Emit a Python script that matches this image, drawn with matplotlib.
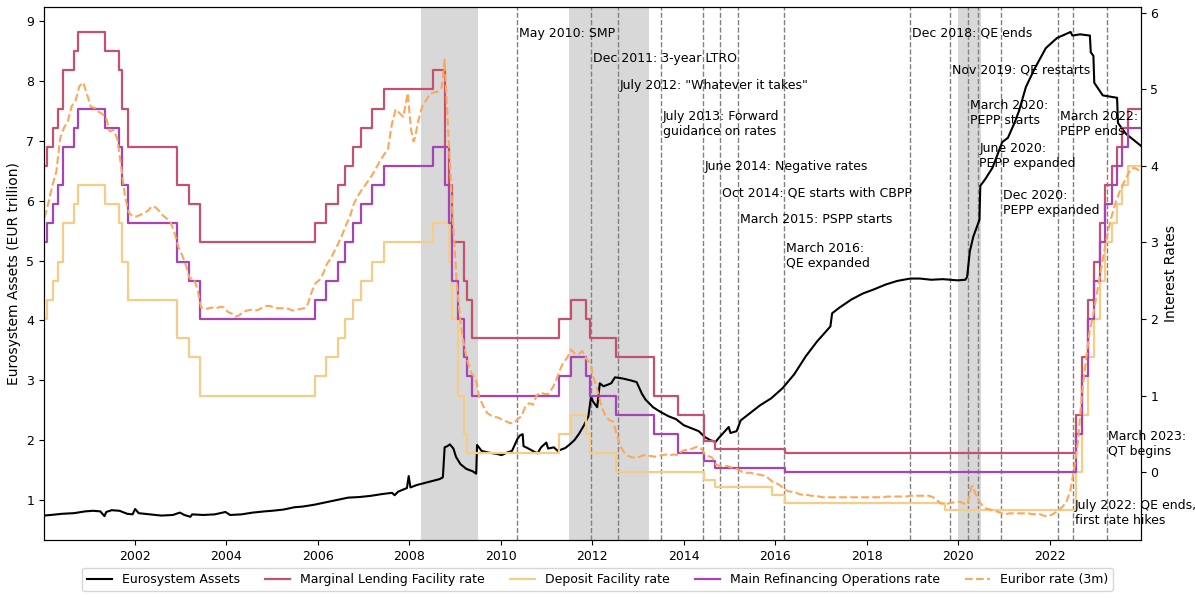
import matplotlib
matplotlib.use("Agg")
import matplotlib.pyplot as plt
import matplotlib.dates as mdates
import pandas as pd

# ---------------- data ----------------
x_start = "2000-01-07"
x_end = "2023-12-29"

# ECB key rates (change dates)
rate_dates = ["2000-01-07", "2000-02-04", "2000-03-17", "2000-04-28", "2000-06-09", "2000-09-01",
              "2000-10-06", "2001-05-11", "2001-08-31", "2001-09-18", "2001-11-09", "2002-12-06",
              "2003-03-07", "2003-06-06", "2005-12-06", "2006-03-08", "2006-06-15", "2006-08-09",
              "2006-10-11", "2006-12-13", "2007-03-14", "2007-06-13", "2008-07-09", "2008-10-09",
              "2008-10-15", "2008-11-12", "2008-12-10", "2009-01-21", "2009-03-11", "2009-04-08",
              "2009-05-13", "2011-04-13", "2011-07-13", "2011-11-09", "2011-12-14", "2012-07-11",
              "2013-05-08", "2013-11-13", "2014-06-11", "2014-09-10", "2015-12-09", "2016-03-16",
              "2019-09-18", "2022-07-27", "2022-09-14", "2022-11-02", "2022-12-21", "2023-02-08",
              "2023-03-22", "2023-05-10", "2023-06-21", "2023-08-02", "2023-09-20"]
mlf_rates = [4.00, 4.25, 4.50, 4.75, 5.25, 5.50, 5.75, 5.50, 5.25, 4.75, 4.25, 3.75,
             3.50, 3.00, 3.25, 3.50, 3.75, 4.00, 4.25, 4.50, 4.75, 5.00, 5.25, 4.25,
             4.25, 3.75, 3.00, 3.00, 2.50, 2.25, 1.75, 2.00, 2.25, 2.00, 1.75, 1.50,
             1.00, 0.75, 0.40, 0.30, 0.30, 0.25, 0.25, 0.75, 1.50, 2.25, 2.75, 3.25,
             3.75, 4.00, 4.25, 4.50, 4.75]
dfr_rates = [2.00, 2.25, 2.50, 2.75, 3.25, 3.50, 3.75, 3.50, 3.25, 2.75, 2.25, 1.75,
             1.50, 1.00, 1.25, 1.50, 1.75, 2.00, 2.25, 2.50, 2.75, 3.00, 3.25, 3.25,
             3.25, 2.75, 2.00, 1.00, 0.50, 0.25, 0.25, 0.50, 0.75, 0.50, 0.25, 0.00,
             0.00, 0.00, -0.10, -0.20, -0.30, -0.40, -0.50, 0.00, 0.75, 1.50, 2.00, 2.50,
             3.00, 3.25, 3.50, 3.75, 4.00]
mro_rates = [3.00, 3.25, 3.50, 3.75, 4.25, 4.50, 4.75, 4.50, 4.25, 3.75, 3.25, 2.75,
             2.50, 2.00, 2.25, 2.50, 2.75, 3.00, 3.25, 3.50, 3.75, 4.00, 4.25, 4.25,
             3.75, 3.25, 2.50, 2.00, 1.50, 1.25, 1.00, 1.25, 1.50, 1.25, 1.00, 0.75,
             0.50, 0.25, 0.15, 0.05, 0.05, 0.00, 0.00, 0.50, 1.25, 2.00, 2.50, 3.00,
             3.50, 3.75, 4.00, 4.25, 4.50]

# Euribor 3m (monthly, plus a few notable days)
euribor_dates = ["2000-01-07"] + [f"{y}-{m:02d}-15" for y in range(2000, 2024) for m in range(1, 13)]
euribor_values = [3.33,
    3.34, 3.54, 3.75, 3.93, 4.36, 4.50, 4.58, 4.78, 4.85, 5.04, 5.09, 4.94,
    4.77, 4.76, 4.71, 4.68, 4.64, 4.45, 4.47, 4.35, 3.98, 3.60, 3.39, 3.34,
    3.34, 3.36, 3.39, 3.41, 3.47, 3.46, 3.41, 3.35, 3.31, 3.26, 3.12, 2.94,
    2.83, 2.69, 2.53, 2.53, 2.40, 2.15, 2.13, 2.14, 2.15, 2.14, 2.16, 2.15,
    2.09, 2.07, 2.03, 2.05, 2.09, 2.11, 2.12, 2.11, 2.12, 2.15, 2.17, 2.17,
    2.15, 2.14, 2.14, 2.14, 2.13, 2.11, 2.12, 2.13, 2.14, 2.20, 2.36, 2.47,
    2.51, 2.60, 2.72, 2.79, 2.89, 2.99, 3.10, 3.23, 3.34, 3.50, 3.60, 3.68,
    3.75, 3.82, 3.89, 3.98, 4.07, 4.15, 4.22, 4.54, 4.74, 4.69, 4.64, 4.90,
    4.48, 4.36, 4.60, 4.78, 4.86, 4.94, 4.96, 4.97, 5.02, 5.20, 4.24, 3.29,
    2.46, 1.94, 1.64, 1.42, 1.28, 1.23, 0.97, 0.86, 0.77, 0.74, 0.72, 0.71,
    0.68, 0.66, 0.64, 0.64, 0.69, 0.73, 0.85, 0.90, 0.88, 1.00, 1.04, 1.02,
    1.02, 1.09, 1.18, 1.32, 1.43, 1.49, 1.60, 1.55, 1.54, 1.58, 1.48, 1.43,
    1.22, 1.05, 0.86, 0.74, 0.68, 0.66, 0.50, 0.33, 0.25, 0.21, 0.19, 0.19,
    0.20, 0.22, 0.21, 0.21, 0.20, 0.21, 0.22, 0.23, 0.22, 0.23, 0.22, 0.27,
    0.29, 0.29, 0.31, 0.33, 0.32, 0.24, 0.21, 0.19, 0.10, 0.08, 0.08, 0.08,
    0.06, 0.05, 0.03, 0.00, -0.01, -0.01, -0.02, -0.03, -0.04, -0.05, -0.09, -0.13,
    -0.15, -0.18, -0.23, -0.25, -0.26, -0.27, -0.29, -0.30, -0.30, -0.31, -0.31, -0.32,
    -0.33, -0.33, -0.33, -0.33, -0.33, -0.33, -0.33, -0.33, -0.33, -0.33, -0.33, -0.33,
    -0.33, -0.33, -0.33, -0.33, -0.33, -0.32, -0.32, -0.32, -0.32, -0.32, -0.32, -0.31,
    -0.31, -0.31, -0.31, -0.31, -0.31, -0.33, -0.37, -0.41, -0.42, -0.41, -0.40, -0.39,
    -0.39, -0.41, -0.42, -0.20, -0.27, -0.38, -0.44, -0.48, -0.49, -0.51, -0.52, -0.54,
    -0.55, -0.54, -0.54, -0.54, -0.54, -0.54, -0.54, -0.55, -0.55, -0.55, -0.57, -0.58,
    -0.56, -0.53, -0.50, -0.45, -0.39, -0.24, 0.04, 0.40, 1.01, 1.43, 1.83, 2.06,
    2.35, 2.64, 2.91, 3.17, 3.37, 3.54, 3.67, 3.78, 3.88, 3.97, 3.97, 3.94]
euribor_extra_dates = ["2007-12-20", "2008-02-05", "2008-10-10", "2020-04-28", "2023-12-29"]
euribor_extra_values = [4.95, 4.32, 5.39, -0.18, 3.91]

# Eurosystem total assets (EUR trillion)
asset_dates = ["2000-01-07", "2000-03-01", "2000-06-01", "2000-09-01", "2000-12-01", "2001-02-01",
    "2001-04-01", "2001-05-04", "2001-05-18", "2001-07-01", "2001-09-01", "2001-11-01", "2001-12-14",
    "2002-01-04", "2002-02-01", "2002-05-01", "2002-08-01", "2002-11-01", "2002-12-27", "2003-02-01",
    "2003-03-21", "2003-04-04", "2003-07-01", "2003-10-01", "2003-12-26", "2004-02-01", "2004-05-01",
    "2004-08-01", "2004-11-01", "2005-01-01", "2005-04-01", "2005-07-01", "2005-09-01", "2005-12-01",
    "2006-03-01", "2006-06-01", "2006-09-01", "2006-12-01", "2007-03-01", "2007-06-01", "2007-08-17",
    "2007-09-07", "2007-10-05", "2007-12-14", "2007-12-28", "2008-01-11", "2008-03-01", "2008-06-01",
    "2008-09-01", "2008-09-26", "2008-10-10", "2008-11-01", "2008-11-21", "2008-12-19", "2009-01-09",
    "2009-02-13", "2009-04-01", "2009-05-22", "2009-06-19", "2009-06-26", "2009-08-01", "2009-10-01",
    "2009-12-01", "2010-01-08", "2010-03-01", "2010-04-01", "2010-05-14", "2010-06-04", "2010-06-25",
    "2010-07-02", "2010-08-01", "2010-10-01", "2010-10-22", "2010-11-19", "2010-12-31", "2011-01-14",
    "2011-03-01", "2011-04-01", "2011-06-01", "2011-07-01", "2011-08-12", "2011-09-16", "2011-10-28",
    "2011-12-02", "2011-12-23", "2012-01-06", "2012-02-10", "2012-03-02", "2012-04-01", "2012-06-01",
    "2012-07-01", "2012-09-01", "2012-11-01", "2012-12-21", "2013-01-31", "2013-03-01", "2013-05-01",
    "2013-07-01", "2013-09-01", "2013-11-01", "2014-01-01", "2014-03-01", "2014-05-01", "2014-06-20",
    "2014-08-01", "2014-09-12", "2014-10-01", "2014-12-26", "2015-01-09", "2015-02-27", "2015-04-01",
    "2015-06-01", "2015-09-01", "2015-12-01", "2016-03-01", "2016-06-01", "2016-09-01", "2016-12-01",
    "2017-03-17", "2017-03-31", "2017-06-01", "2017-09-01", "2017-12-01", "2018-03-01", "2018-06-01",
    "2018-09-01", "2018-12-14", "2019-03-01", "2019-06-01", "2019-09-01", "2019-12-27", "2020-02-28",
    "2020-03-13", "2020-04-03", "2020-05-01", "2020-06-19", "2020-06-26", "2020-08-01", "2020-10-01",
    "2020-12-18", "2021-02-01", "2021-03-26", "2021-05-01", "2021-06-25", "2021-09-01", "2021-12-01",
    "2022-03-01", "2022-06-17", "2022-07-01", "2022-09-01", "2022-11-18", "2022-11-25", "2022-12-16",
    "2022-12-23", "2023-03-01", "2023-06-23", "2023-06-30", "2023-09-01", "2023-12-29"]
asset_values = [0.74, 0.75, 0.77, 0.78, 0.81, 0.82,
    0.81, 0.73, 0.80, 0.83, 0.82, 0.77, 0.76,
    0.85, 0.78, 0.76, 0.74, 0.75, 0.79, 0.75,
    0.72, 0.76, 0.75, 0.76, 0.80, 0.75, 0.76,
    0.79, 0.81, 0.82, 0.84, 0.88, 0.89, 0.92,
    0.96, 1.00, 1.04, 1.05, 1.07, 1.10, 1.12,
    1.08, 1.14, 1.20, 1.40, 1.21, 1.25, 1.30,
    1.35, 1.38, 1.88, 1.90, 1.93, 1.86, 1.72,
    1.60, 1.52, 1.48, 1.44, 1.92, 1.82, 1.79,
    1.77, 1.75, 1.80, 1.82, 2.02, 2.08, 2.10,
    1.90, 1.87, 1.80, 1.78, 1.88, 1.96, 1.86,
    1.88, 1.82, 1.87, 1.92, 2.00, 2.10, 2.25,
    2.40, 2.73, 2.65, 2.55, 2.95, 2.90, 2.95,
    3.05, 3.03, 3.00, 2.97, 2.78, 2.68, 2.55,
    2.47, 2.40, 2.35, 2.25, 2.20, 2.15, 2.05,
    2.00, 1.97, 2.02, 2.22, 2.12, 2.15, 2.33,
    2.43, 2.58, 2.70, 2.87, 3.10, 3.40, 3.65,
    3.90, 4.12, 4.22, 4.35, 4.45, 4.52, 4.60,
    4.66, 4.70, 4.70, 4.68, 4.69, 4.67, 4.68,
    4.73, 5.15, 5.40, 5.68, 6.25, 6.35, 6.55,
    6.98, 7.05, 7.30, 7.50, 7.90, 8.20, 8.55,
    8.72, 8.82, 8.76, 8.78, 8.76, 8.48, 8.42,
    7.97, 7.76, 7.72, 7.30, 7.12, 6.92]

recession_starts = ["2008-04-01", "2011-07-01", "2020-01-01"]
recession_ends = ["2009-06-30", "2013-03-31", "2020-06-30"]

event_dates = ["2010-05-10", "2011-12-21", "2012-07-26", "2013-07-04", "2014-06-05", "2014-10-20",
               "2015-03-09", "2016-03-10", "2018-12-13", "2019-11-01", "2020-03-18", "2020-06-04",
               "2020-12-10", "2022-03-10", "2022-07-08", "2023-03-31"]
event_labels = ["May 2010: SMP", "Dec 2011: 3-year LTRO", 'July 2012: "Whatever it takes"',
                "July 2013: Forward\nguidance on rates", "June 2014: Negative rates",
                "Oct 2014: QE starts with CBPP", "March 2015: PSPP starts", "March 2016:\nQE expanded",
                "Dec 2018: QE ends", "Nov 2019: QE restarts", "March 2020:\nPEPP starts",
                "June 2020:\nPEPP expanded", "Dec 2020:\nPEPP expanded", "March 2022:\nPEPP ends",
                "July 2022: QE ends,\nfirst rate hikes", "March 2023:\nQT begins"]
event_label_y = [8.80, 8.37, 7.92, 7.28, 6.58, 6.13, 5.68, 5.07, 8.80, 8.18, 7.47, 6.75, 5.97,
                 7.29, 0.78, 1.94]

# ---------------- plotting ----------------
fig = plt.figure(figsize=(11.95, 5.98), dpi=100)
ax1 = fig.add_axes([0.0368, 0.097, 0.9178, 0.891])
ax2 = ax1.twinx()

t_end = pd.Timestamp(x_end)

for s, e in zip(recession_starts, recession_ends):
    ax1.axvspan(pd.Timestamp(s), pd.Timestamp(e), color="gray", alpha=0.3, lw=0)

for d in event_dates:
    ax1.axvline(pd.Timestamp(d), color="gray", linestyle="--", linewidth=1)

la, = ax1.plot(pd.to_datetime(asset_dates), asset_values, color="black", lw=1.5,
               label="Eurosystem Assets")

rd = list(pd.to_datetime(rate_dates)) + [t_end]

def ext(v):
    return list(v) + [v[-1]]

l1, = ax2.plot(rd, ext(mlf_rates), drawstyle="steps-post", color="#c4526e", lw=1.6,
               label="Marginal Lending Facility rate")
l2, = ax2.plot(rd, ext(dfr_rates), drawstyle="steps-post", color="#f6cd88", lw=1.6,
               label="Deposit Facility rate")
l3, = ax2.plot(rd, ext(mro_rates), drawstyle="steps-post", color="#a643b6", lw=1.6,
               label="Main Refinancing Operations rate")

eur = pd.Series(euribor_values, index=pd.to_datetime(euribor_dates))
eur = pd.concat([eur, pd.Series(euribor_extra_values, index=pd.to_datetime(euribor_extra_dates))])
eur = eur.sort_index()
eur = eur[eur.index <= t_end]
l4, = ax2.plot(eur.index, eur.values, color="#fca85a", lw=1.5, linestyle="--",
               label="Euribor rate (3m)")

# annotations drawn on top layer (ax2) using the left-axis data coordinates
for d, lab, y in zip(event_dates, event_labels, event_label_y):
    ax2.text(pd.Timestamp(d) + pd.Timedelta(days=14), y, lab, ha="left", va="center",
             fontsize=9, zorder=5, transform=ax1.transData)

ax1.set_xlim(pd.Timestamp(x_start), t_end)
ax1.set_ylim(0.332, 9.234)
ax2.set_ylim(-0.888, 6.074)
ax1.set_yticks(range(1, 10))
ax2.set_yticks(range(0, 7))
ax1.xaxis.set_major_locator(mdates.YearLocator(2))
ax1.xaxis.set_major_formatter(mdates.DateFormatter("%Y"))
ax1.tick_params(labelsize=9)
ax2.tick_params(labelsize=9)
ax1.set_ylabel("Eurosystem Assets (EUR trillion)", fontsize=10)
ax2.set_ylabel("Interest Rates", fontsize=10)

fig.legend(handles=[la, l1, l2, l3, l4], loc="center", bbox_to_anchor=(0.5, 0.031), ncol=5,
           fontsize=9)

fig.savefig("out.png", dpi=100)
